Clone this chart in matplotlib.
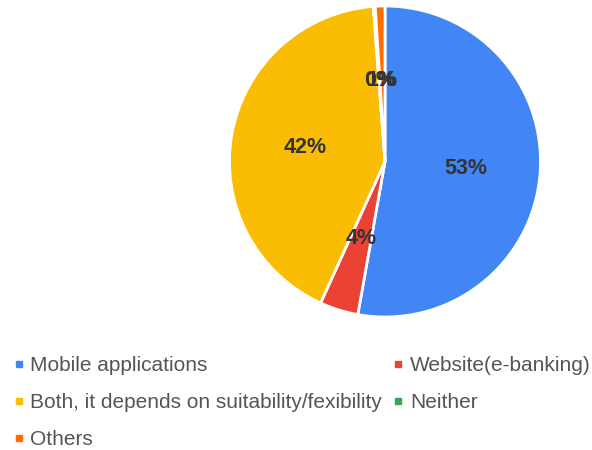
import matplotlib.pyplot as plt
from matplotlib.lines import Line2D

plt.rcParams['font.family'] = ['Liberation Sans', 'DejaVu Sans']

# survey answers, share of respondents in percent
labels = ['Mobile applications', 'Website(e-banking)',
          'Both, it depends on suitability/fexibility', 'Neither', 'Others']
shares = [52.8, 4.0, 42.0, 0.2, 1.0]
colors = ['#4285F4', '#EA4335', '#FBBC04', '#34A853', '#FF6D01']

fig = plt.figure(figsize=(5.92, 4.5), dpi=100)
ax = fig.add_axes([229.5 / 592, 133 / 450, 311 / 592, 311 / 450])

wedges, texts, autotexts = ax.pie(
    shares, colors=colors, startangle=90, counterclock=False,
    autopct=lambda p: f'{p:.0f}%', pctdistance=0.52,
    wedgeprops=dict(edgecolor='white', linewidth=2),
    textprops=dict(color='#333333', fontsize=15.5, fontweight='bold'),
)
ax.set_xlim(-1.0, 1.0)
ax.set_ylim(-1.0, 1.0)
ax.set_aspect('equal')

# legend laid out row by row: two columns, filled column-wise
order = [0, 2, 4, 1, 3]
handles = [Line2D([], [], marker='s', linestyle='none', markersize=5,
                  markerfacecolor=colors[i], markeredgecolor=colors[i])
           for i in order]
fig.legend(handles, [labels[i] for i in order], ncol=2,
           loc='upper left', bbox_to_anchor=(13.3 / 592, 1 - 356 / 450),
           frameon=False, fontsize=15, labelcolor='#555555',
           handlelength=0.5, handletextpad=0.3, columnspacing=0.54,
           labelspacing=0.86, borderaxespad=0, borderpad=0)

fig.savefig('out.png', dpi=100)
